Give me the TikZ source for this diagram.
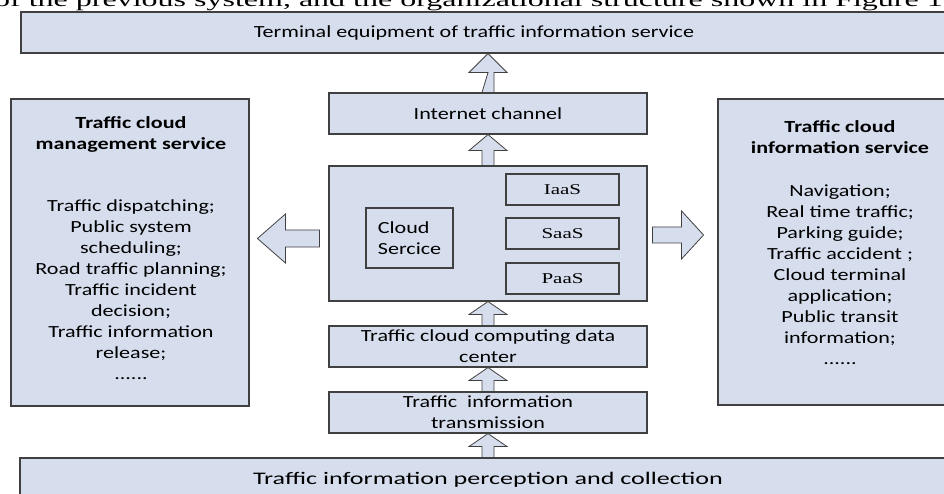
\documentclass[tikz,border=0pt]{standalone}
\usepackage{fontspec}
\setmainfont{Carlito}[FakeStretch=1.3]
\newfontfamily\tnr{Liberation Serif}[FakeStretch=1.4]
\newfontfamily\capserif{Liberation Serif}[FakeStretch=1.6]
\usetikzlibrary{calc}
\definecolor{boxfill}{RGB}{214,222,238}
\definecolor{boxline}{RGB}{64,64,64}
\begin{document}
\begin{tikzpicture}[x=1pt,y=-1pt,
  box/.style={draw=boxline, fill=boxfill, line width=1.1pt, inner sep=0pt, align=center, font=\fontsize{17}{21}\selectfont},
  sbox/.style={box, font=\tnr\fontsize{15}{18}\selectfont},
  blk/.style={draw=boxline, fill=boxfill, line width=0.8pt, line join=miter},
  txt/.style={font=\fontsize{17}{21}\selectfont, align=center, inner sep=0pt, anchor=north}]
\useasboundingbox (0,0) rectangle (944,494);
\clip (0,0) rectangle (944,494);
% cropped caption line
\node[anchor=base west, inner sep=0pt, font=\capserif\fontsize{20}{24}\selectfont] (cap) at (-6,6.5) {of the previous system, and the organizational structure shown in Figure 1};
% boxes
\node[box, minimum width=939pt, minimum height=41pt] (term) at (490.5,32.5) {};
\node[txt, anchor=center] (termtxt) at (474,32.5) {Terminal equipment of traffic information service};
\node[box, minimum width=318pt, minimum height=41pt] (inet) at (488,113.5) {Internet channel};
\node[box, minimum width=318pt, minimum height=135pt] (cloud) at (488,233.5) {};
\node[sbox, minimum width=113pt, minimum height=31pt] (iaas) at (562.5,189.5) {IaaS};
\node[sbox, minimum width=113pt, minimum height=31pt] (saas) at (562.5,233.5) {SaaS};
\node[sbox, minimum width=113pt, minimum height=31pt] (paas) at (562.5,278.5) {PaaS};
\node[box, align=left, minimum width=87pt, minimum height=60pt] (cs) at (409.5,238) {Cloud\\Sercice};
\node[box, minimum width=318pt, minimum height=41pt] (dc) at (488,346.5) {Traffic cloud computing data\\center};
\node[box, minimum width=318pt, minimum height=41pt] (tr) at (488,412.5) {Traffic\ \ information\\transmission};
\node[box, minimum width=940pt, minimum height=62pt] (bot) at (490,489) {};
\node[txt, anchor=base] (bottxt) at (488,484) {\scalebox{1.18}[1.04]{Traffic information perception and collection}};
\node[box, minimum width=238pt, minimum height=307pt] (left) at (130,252.5) {};
\node[box, minimum width=242pt, minimum height=306pt] (right) at (839,252) {};
\node[txt] (ltxt) at (131,113) {\rule{0pt}{15pt}\textbf{Traffic cloud}\\\textbf{management service}\\[41pt]
Traffic dispatching;\\Public system\\scheduling;\\Road traffic planning;\\Traffic incident\\decision;\\Traffic information\\release;\\......};
\node[txt] (rtxt) at (840,117) {\rule{0pt}{15pt}\textbf{Traffic cloud}\\\textbf{information service}\\[22pt]
Navigation;\\Real time traffic;\\Parking guide;\\Traffic accident ;\\Cloud terminal\\application;\\Public transit\\information;\\......};
% vertical block arrows
\draw[blk] ($(inet.north)+(-6,0)$) -- ($(term.south)+(-2.5,19)$) -- ($(term.south)+(-21.5,19)$) -- ($(term.south)+(-2.5,0)$) -- ($(term.south)+(16.5,19)$) -- ($(term.south)+(3.5,19)$) -- ($(inet.north)+(6,0)$) -- cycle;
\draw[blk] ($(cloud.north)+(-6,0)$) -- ($(inet.south)+(-6,16)$) -- ($(inet.south)+(-19,16)$) -- (inet.south) -- ($(inet.south)+(19,16)$) -- ($(inet.south)+(6,16)$) -- ($(cloud.north)+(6,0)$) -- cycle;
\draw[blk] ($(dc.north)+(-6,0)$) -- ($(cloud.south)+(-6,13)$) -- ($(cloud.south)+(-19,13)$) -- (cloud.south) -- ($(cloud.south)+(19,13)$) -- ($(cloud.south)+(6,13)$) -- ($(dc.north)+(6,0)$) -- cycle;
\draw[blk] ($(tr.north)+(-6,0)$) -- ($(dc.south)+(-6,13)$) -- ($(dc.south)+(-19,13)$) -- (dc.south) -- ($(dc.south)+(19,13)$) -- ($(dc.south)+(6,13)$) -- ($(tr.north)+(6,0)$) -- cycle;
\draw[blk] ($(bot.north)+(-8,0)$) -- ($(tr.south)+(-6,13)$) -- ($(tr.south)+(-19,13)$) -- (tr.south) -- ($(tr.south)+(19,13)$) -- ($(tr.south)+(6,13)$) -- ($(bot.north)+(4,0)$) -- cycle;
% side block arrows
\draw[blk] ($(cloud.west)+(-9,-3.5)$) -- ($(cloud.west)+(-43,-3.5)$) -- ($(cloud.west)+(-43,-19.5)$) -- ($(cloud.west)+(-71,5)$) -- ($(cloud.west)+(-43,29.5)$) -- ($(cloud.west)+(-43,13.5)$) -- ($(cloud.west)+(-9,13.5)$) -- cycle;
\draw[blk] ($(cloud.east)+(5,-6.5)$) -- ($(cloud.east)+(34,-6.5)$) -- ($(cloud.east)+(34,-22.5)$) -- ($(cloud.east)+(56,1.5)$) -- ($(cloud.east)+(34,25.5)$) -- ($(cloud.east)+(34,9.5)$) -- ($(cloud.east)+(5,9.5)$) -- cycle;
\end{tikzpicture}
\end{document}
